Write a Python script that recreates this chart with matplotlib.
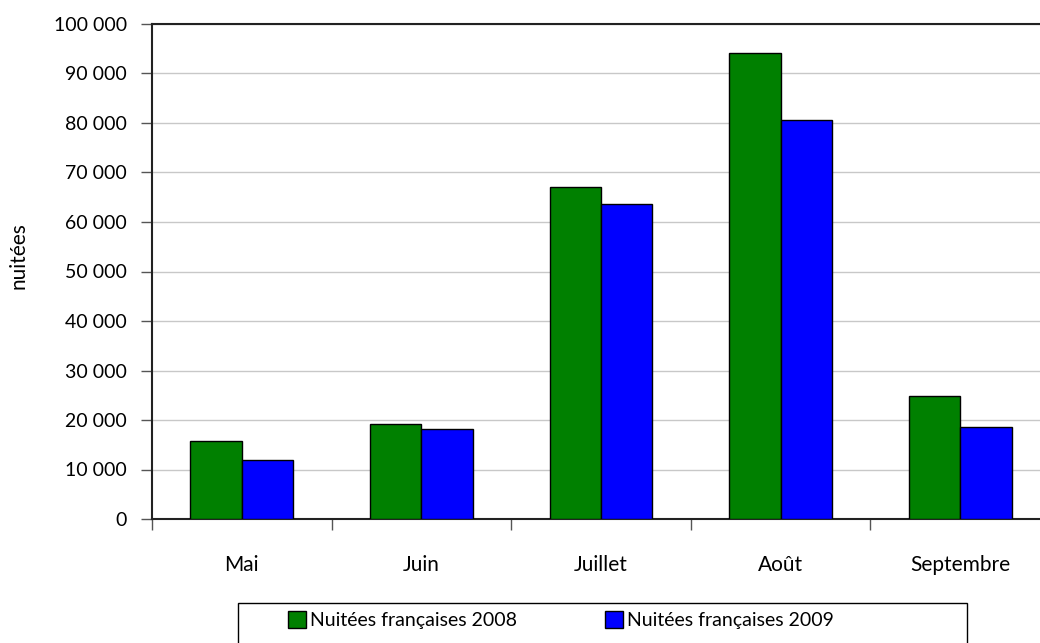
import numpy as np
import matplotlib
matplotlib.use("Agg")
import matplotlib.pyplot as plt
from matplotlib.patches import Patch, Rectangle
from matplotlib.ticker import FuncFormatter, MultipleLocator

# data
mois = ["Mai", "Juin", "Juillet", "Août", "Septembre"]
nuitees_2008 = [15800, 19100, 67100, 94200, 24900]
nuitees_2009 = [11900, 18100, 63600, 80600, 18600]
labels = ["Nuitées françaises 2008", "Nuitées françaises 2009"]
colors = ["#008000", "#0000FF"]

plt.rcParams["font.family"] = ["Lato", "DejaVu Sans"]

W, H = 1040, 643
fig = plt.figure(figsize=(W / 100, H / 100), dpi=100)

# plot area in pixels (right edge runs past the image, as in the original)
left, right, top, bottom = 152, 1050, 24, 519
ax = fig.add_axes([left / W, 1 - bottom / H, (right - left) / W, (bottom - top) / H])

x = np.arange(len(mois))
width = 1 / 3.5  # Excel gap width 150 %
ax.bar(x - width / 2, nuitees_2008, width, color=colors[0], edgecolor="black", linewidth=1, zorder=3)
ax.bar(x + width / 2, nuitees_2009, width, color=colors[1], edgecolor="black", linewidth=1, zorder=3)

ax.set_xlim(-0.5, len(mois) - 0.5)
ax.set_ylim(0, 100000)

# y axis
ax.yaxis.set_major_locator(MultipleLocator(10000))
ax.yaxis.set_major_formatter(FuncFormatter(lambda v, p: f"{int(v):,}".replace(",", " ")))
ax.tick_params(axis="y", direction="out", length=8, width=1, color="#555555", pad=10, labelsize=14)
ax.grid(axis="y", color="#c8c8c8", linewidth=1, zorder=0)

# x axis: labels centred, tick marks between categories
ax.set_xticks(x)
ax.set_xticklabels(mois)
ax.set_xticks(np.arange(-0.5, len(mois)), minor=True)
ax.tick_params(axis="x", which="major", length=0, pad=26, labelsize=15)
ax.tick_params(axis="x", which="minor", direction="out", length=8, width=1, color="#555555")

for side in ["left", "bottom", "top"]:
    ax.spines[side].set_color("#222222")
    ax.spines[side].set_linewidth(1.5)
ax.spines["right"].set_visible(False)

fig.text(18 / W, 1 - 256 / H, "nuitées", rotation=90, ha="center", va="center", fontsize=15)

# legend with a hand-drawn frame (bottom clipped by the image edge)
handles = [Patch(facecolor=c, edgecolor="black", linewidth=1) for c in colors]
fig.legend(handles, labels, loc="center left", bbox_to_anchor=(278 / W, 1 - 620 / H),
           ncol=2, frameon=False, fontsize=14, borderpad=0, handlelength=0.95,
           handleheight=0.95, handletextpad=0.2, columnspacing=4.5)
fig.patches.append(Rectangle((238 / W, 1 - 655 / H), (967 - 238) / W, (655 - 603) / H,
                             transform=fig.transFigure, fill=False, edgecolor="black", linewidth=1))

fig.savefig("out.png", dpi=100)
